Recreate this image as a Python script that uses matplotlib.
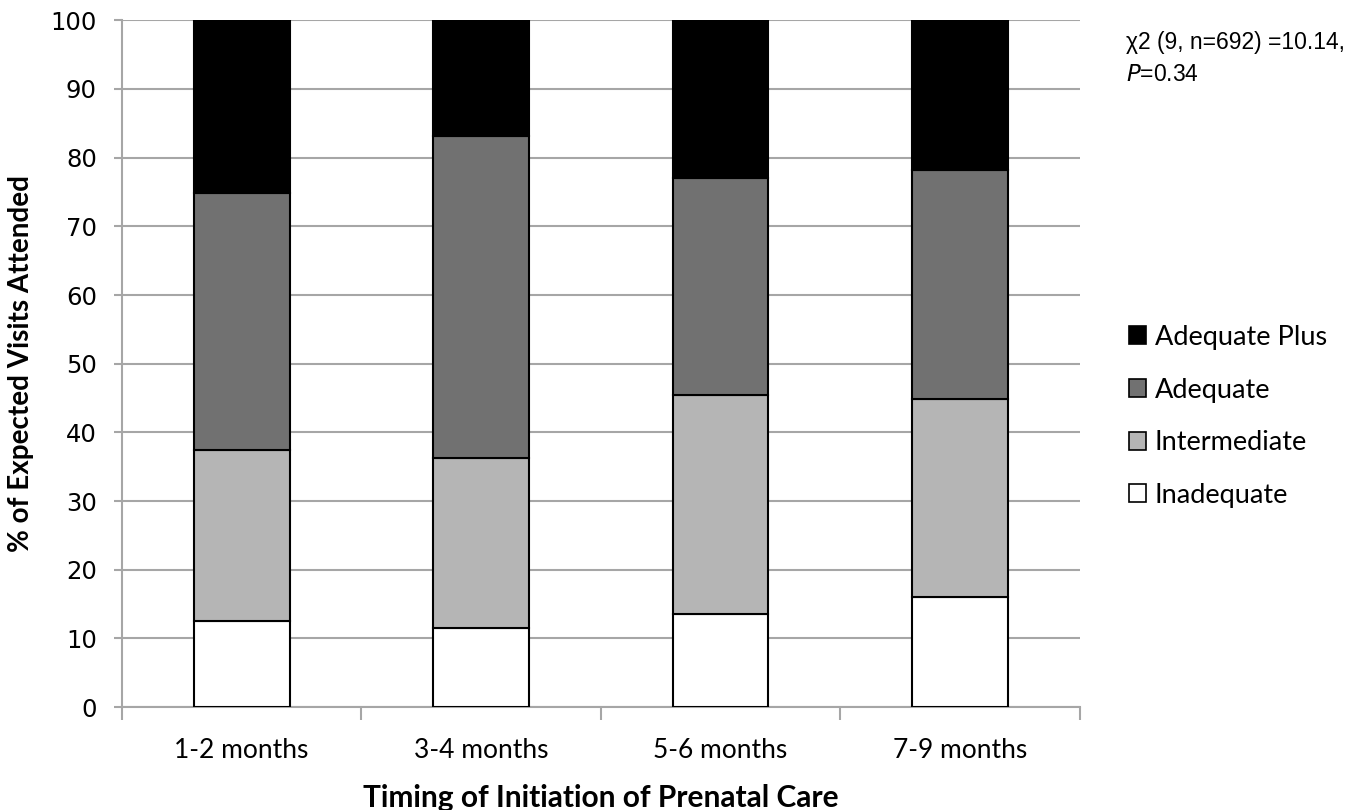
import numpy as np
import matplotlib.pyplot as plt
from matplotlib.patches import Patch

# === Data ===
categories = ["1-2 months", "3-4 months", "5-6 months", "7-9 months"]
inadequate = [12.5, 11.5, 13.5, 16.0]
intermediate = [25.0, 24.8, 31.9, 28.9]
adequate = [37.4, 46.9, 31.7, 33.3]
adequate_plus = [25.1, 16.8, 22.9, 21.8]

series = [
    ("Inadequate", inadequate, "#ffffff"),
    ("Intermediate", intermediate, "#b5b5b5"),
    ("Adequate", adequate, "#717171"),
    ("Adequate Plus", adequate_plus, "#000000"),
]

fig = plt.figure(figsize=(13.72, 8.10), dpi=100)
ax = fig.add_axes([0.0889, 0.127, 0.698, 0.848])

x = np.arange(len(categories))
bottoms = np.zeros(len(categories))
for name, vals, color in series:
    ax.bar(x, vals, bottom=bottoms, width=0.4, color=color,
           edgecolor="black", linewidth=1.5, zorder=3)
    bottoms += np.array(vals)

ax.set_xlim(-0.5, len(categories) - 0.5)
ax.set_ylim(0, 100)
ax.set_yticks(np.arange(0, 101, 10))
ax.yaxis.grid(True, color="#a6a6a6", linewidth=1.5, zorder=0)
ax.set_axisbelow(True)

for s in ["top", "right"]:
    ax.spines[s].set_visible(False)
for s in ["left", "bottom"]:
    ax.spines[s].set_color("#a6a6a6")
    ax.spines[s].set_linewidth(1.5)

ax.tick_params(axis="y", colors="#a6a6a6", length=6, width=1.5, labelcolor="black",
               labelsize=17.5, pad=12)
ax.set_xticks(x)
ax.set_xticklabels(categories, fontfamily="Lato", fontsize=19)
ax.tick_params(axis="x", length=0, pad=22)
ax.set_xticks(np.arange(-0.5, len(categories), 1.0), minor=True)
ax.tick_params(axis="x", which="minor", colors="#a6a6a6", length=9, width=1.5)

ax.set_ylabel("% of Expected Visits Attended", fontfamily="Lato", fontweight="bold",
              fontsize=20, labelpad=12)
ax.set_xlabel("Timing of Initiation of Prenatal Care", fontfamily="Lato",
              fontweight="bold", fontsize=21.5, labelpad=15)

handles = [Patch(facecolor=c, edgecolor="black", linewidth=1.2, label=n)
           for n, v, c in series[::-1]]
fig.legend(handles=handles, loc="upper left", bbox_to_anchor=(0.805, 0.629),
           frameon=False, prop={"family": "Lato", "size": 19.5},
           handlelength=0.65, handleheight=0.65, handletextpad=0.3, labelspacing=1.02)

fig.text(0.821, 0.947, "χ2 (9, n=692) =10.14,", fontfamily="Liberation Sans",
         fontsize=16.5, va="center")
fig.text(0.821, 0.908, "$\\it{P}$=0.34", fontfamily="Liberation Sans",
         fontsize=16.5, va="center")

fig.savefig("out.png", dpi=100, facecolor="white")
